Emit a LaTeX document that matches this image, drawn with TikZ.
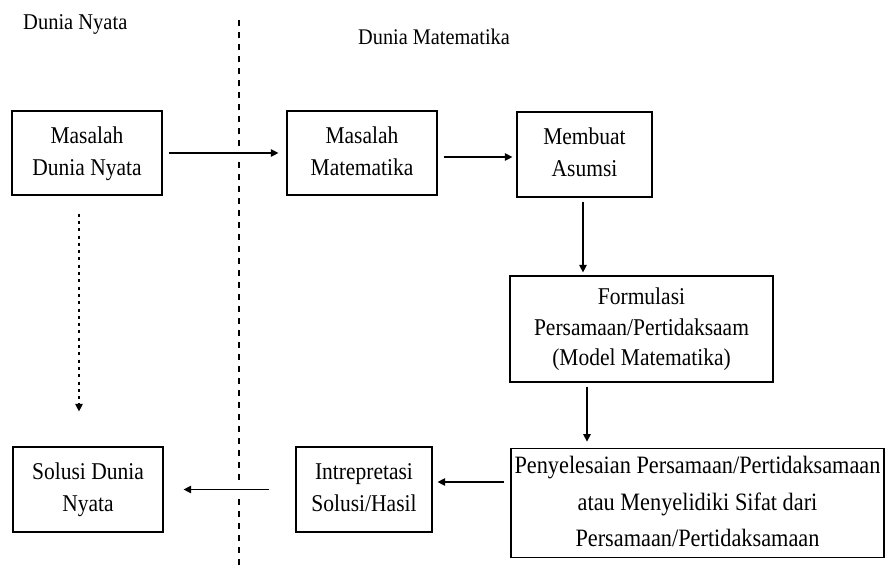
\documentclass[tikz,border=0pt]{standalone}
\usepackage{graphicx}
\usepackage{fontspec}
\setmainfont{Liberation Serif}
\usetikzlibrary{arrows.meta,calc}
\newcommand\txt[2]{\scalebox{1}[1.12]{\fontsize{21.5}{#1}\selectfont\begin{tabular}{@{}c@{}}#2\end{tabular}}}
\begin{document}
\begin{tikzpicture}[x=1pt,y=-1pt,
  box/.style={draw, line width=1.2pt, align=center, inner sep=0pt},
  arr/.style={line width=1.2pt, -{Triangle[length=7.5pt,width=7.5pt]}},
  title/.style={inner sep=0pt, anchor=west}]
\useasboundingbox (0,0) rectangle (889,568);
\node[title] (t1) at (23,24) {\scalebox{1}[1.1]{\fontsize{20.5}{24}\selectfont Dunia Nyata}};
\node[title] (t2) at (358,37) {\scalebox{1}[1.1]{\fontsize{20.3}{24}\selectfont Dunia Matematika}};
% dashed divider with gaps where arrows cross
\coordinate (d0) at (239,20);
\coordinate (d1) at (239,147);
\coordinate (d2) at (239,162);
\coordinate (d3) at (239,481);
\coordinate (d4) at (239,499);
\coordinate (d5) at (239,568);
\draw[line width=1.3pt, dash pattern=on 6pt off 6pt] (d0) -- (d1) (d2) -- (d3) (d4) -- (d5);
% boxes
\node[box, minimum width=150, minimum height=84] (b1) at (87,153) {\txt{28.5}{Masalah\\Dunia Nyata}};
\node[box, minimum width=150, minimum height=84] (b2) at (362,153) {\txt{28.5}{Masalah\\Matematika}};
\node[box, minimum width=135, minimum height=85] (b3) at (584.5,154.5) {\txt{28.5}{Membuat\\Asumsi}};
\node[box, minimum width=263, minimum height=106] (b4) at (641.5,329) {\txt{26.8}{Formulasi\\Persamaan/Pertidaksaam\\(Model Matematika)}};
\node[box, minimum width=373, minimum height=108] (b5) at (697.5,503) {\scalebox{1}[1.12]{\fontsize{22.3}{32.6}\selectfont\begin{tabular}{@{}c@{}}Penyelesaian Persamaan/Pertidaksamaan\\atau Menyelidiki Sifat dari\\Persamaan/Pertidaksamaan\end{tabular}}};
\node[box, minimum width=136, minimum height=85] (b6) at (364,489.5) {\txt{28.5}{Intrepretasi\\Solusi/Hasil}};
\node[box, minimum width=150, minimum height=85] (b7) at (88,489.5) {\txt{28.5}{Solusi Dunia\\Nyata}};
% arrows
\draw[arr] ([xshift=6pt]b1.east) -- ([xshift=-8pt]b2.west);
\draw[arr] ([xshift=6pt,yshift=-4pt]b2.east) -- ([xshift=-4pt,yshift=-2.5pt]b3.west);
\draw[arr] ([xshift=-1.5pt,yshift=-4pt]b3.south) -- ([xshift=-58.5pt,yshift=3pt]b4.north);
\draw[arr] ([xshift=-54.5pt,yshift=-4pt]b4.south) -- ([xshift=-110.5pt,yshift=6pt]b5.north);
\draw[arr] ([xshift=-6pt,yshift=21pt]b5.west) -- ([xshift=5pt,yshift=7.5pt]b6.east);
\draw[arr] ([xshift=-26pt]b6.west) -- ([xshift=20pt]b7.east);
\draw[arr, dash pattern=on 3pt off 4.3pt] ([xshift=-8pt,yshift=-18pt]b1.south) -- ([xshift=-9pt,yshift=35pt]b7.north);
\end{tikzpicture}
\end{document}
